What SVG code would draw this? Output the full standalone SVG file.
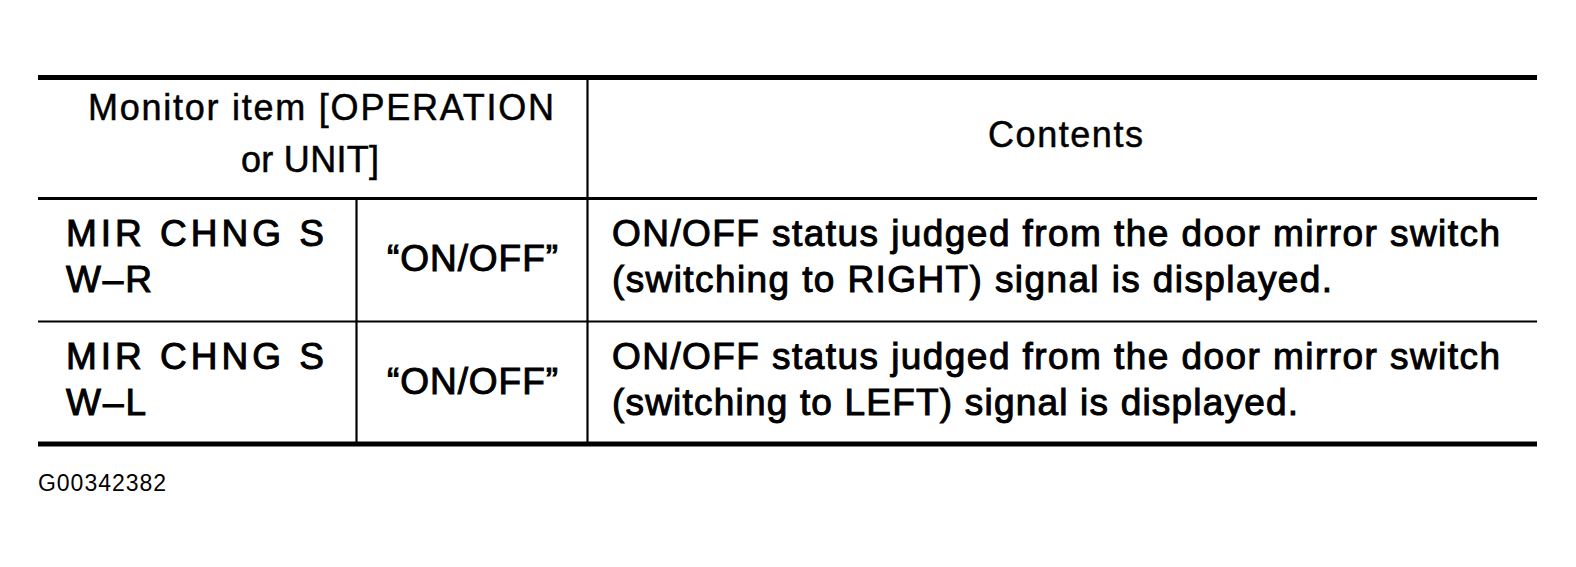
<svg xmlns="http://www.w3.org/2000/svg" width="1576" height="567" viewBox="0 0 1576 567">
<style>
text{font-family:"Liberation Sans",Arial,Helvetica,sans-serif;fill:#000}
.h{font-size:36px;stroke:#000;stroke-width:0.5}
.b{font-size:37px;stroke:#000;stroke-width:1}
.id{font-size:23px}
.thick{stroke:#000;stroke-width:5}
.mid{stroke:#000;stroke-width:3}
.thin{stroke:#000;stroke-width:2.2}
</style>
<rect width="1576" height="567" fill="#fff"/>
<g id="grid">
<line class="thick" x1="38" y1="77.5" x2="1537" y2="77.5"/>
<line class="mid" x1="38" y1="198.5" x2="1537" y2="198.5"/>
<line class="thin" x1="38" y1="321.5" x2="1537" y2="321.5"/>
<line class="thick" x1="38" y1="444" x2="1537" y2="444"/>
<line class="thin" x1="587.5" y1="77" x2="587.5" y2="444"/>
<line class="thin" x1="356.5" y1="198" x2="356.5" y2="444"/>
</g>
<g id="header">
<text class="h" x="88" y="120" textLength="466" lengthAdjust="spacing">Monitor item [OPERATION</text>
<text class="h" x="241" y="172" textLength="138" lengthAdjust="spacing">or UNIT]</text>
<text class="h" x="988" y="147" textLength="155" lengthAdjust="spacing">Contents</text>
</g>
<g id="row-r">
<text class="b" x="66" y="246" textLength="258" lengthAdjust="spacing">MIR CHNG S</text>
<text class="b" x="66" y="292" textLength="86" lengthAdjust="spacing">W–R</text>
<text class="b" x="387" y="271" textLength="171" lengthAdjust="spacing">“ON/OFF”</text>
<text class="b" x="612" y="246" textLength="888" lengthAdjust="spacing">ON/OFF status judged from the door mirror switch</text>
<text class="b" x="612" y="292" textLength="720" lengthAdjust="spacing">(switching to RIGHT) signal is displayed.</text>
</g>
<g id="row-l">
<text class="b" x="66" y="369" textLength="258" lengthAdjust="spacing">MIR CHNG S</text>
<text class="b" x="66" y="415" textLength="80" lengthAdjust="spacing">W–L</text>
<text class="b" x="387" y="394" textLength="171" lengthAdjust="spacing">“ON/OFF”</text>
<text class="b" x="612" y="369" textLength="888" lengthAdjust="spacing">ON/OFF status judged from the door mirror switch</text>
<text class="b" x="612" y="415" textLength="686" lengthAdjust="spacing">(switching to LEFT) signal is displayed.</text>
</g>
<g id="caption">
<text class="id" x="38" y="491" textLength="128" lengthAdjust="spacing">G00342382</text>
</g>
</svg>
